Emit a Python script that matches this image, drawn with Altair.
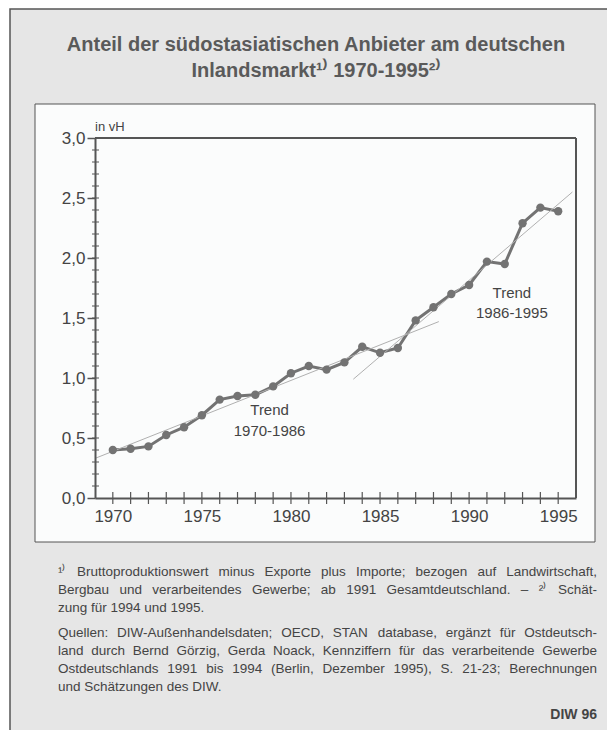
import altair as alt
import pandas as pd

years = list(range(1970, 1996))
share = [0.40, 0.41, 0.43, 0.525, 0.59, 0.69, 0.82, 0.85, 0.86, 0.93,
         1.04, 1.10, 1.07, 1.13, 1.26, 1.21, 1.25, 1.48, 1.59, 1.70,
         1.775, 1.97, 1.95, 2.29, 2.42, 2.39]

trend_group = ["1970-1986", "1970-1986", "1986-1995", "1986-1995"]
trend_year = [1969.0, 1988.3, 1983.5, 1995.8]
trend_value = [0.33, 1.47, 0.99, 2.55]

label_text = ["Trend", "1970-1986", "Trend", "1986-1995"]
label_year = [1978.8, 1978.8, 1992.4, 1992.4]
label_value = [0.73, 0.555, 1.71, 1.54]

x_labels = [1970, 1975, 1980, 1985, 1990, 1995]
y_labels = [0.0, 0.5, 1.0, 1.5, 2.0, 2.5, 3.0]
y_minor = [0.1, 0.2, 0.3, 0.4, 0.5, 0.6, 0.7, 0.8, 0.9, 1.0,
           1.1, 1.2, 1.3, 1.4, 1.5, 1.6, 1.7, 1.8, 1.9, 2.0,
           2.1, 2.2, 2.3, 2.4, 2.5, 2.6, 2.7, 2.8, 2.9]

title_text = "Anteil der südostasiatischen Anbieter am deutschen\nInlandsmarkt¹⁾ 1970-1995²⁾"
note_lines = [
    "¹⁾ Bruttoproduktionswert minus Exporte plus Importe; bezogen auf Landwirtschaft,",
    "Bergbau und verarbeitendes Gewerbe; ab 1991 Gesamtdeutschland. – ²⁾ Schät-",
    "zung für 1994 und 1995.",
    "Quellen: DIW-Außenhandelsdaten; OECD, STAN database, ergänzt für Ostdeutsch-",
    "land durch Bernd Görzig, Gerda Noack, Kennziffern für das verarbeitende Gewerbe",
    "Ostdeutschlands 1991 bis 1994 (Berlin, Dezember 1995), S. 21-23; Berechnungen",
    "und Schätzungen des DIW.",
]
note_justified = [True, True, False, True, True, True, False]
badge = "DIW 96"

W, H = 481, 360
FONT = "Liberation Sans"
DARK = "#555555"

# --- text layout for justified footnotes (Arial/Liberation Sans advance widths) ---
ARIAL = {" ": 278, "!": 278, "(": 333, ")": 333, ",": 278, "-": 333, ".": 278,
         ":": 278, ";": 278, "¹": 333, "²": 333, "⁾": 333, "–": 556, "ß": 611,
         "A": 667, "B": 667, "C": 722, "D": 722, "E": 667, "F": 611, "G": 778,
         "H": 722, "I": 278, "J": 500, "K": 667, "L": 556, "M": 833, "N": 722,
         "O": 778, "P": 667, "Q": 778, "R": 722, "S": 667, "T": 611, "U": 722,
         "V": 667, "W": 944, "X": 667, "Y": 667, "Z": 611,
         "c": 500, "f": 278, "i": 222, "j": 222, "k": 500, "l": 222, "m": 833,
         "r": 333, "s": 500, "t": 278, "v": 500, "w": 722, "x": 500, "y": 500,
         "z": 500}
FOOT_SIZE = 13.5
FOOT_LEFT, FOOT_RIGHT = -37, 502
FOOT_Y = [434, 452, 470, 495, 513, 531, 549]


def text_width(s):
    return sum(ARIAL.get(ch, 556) for ch in s) * FOOT_SIZE / 1000.0


words = []
for line, just, py in zip(note_lines, note_justified, FOOT_Y):
    parts = line.split(" ")
    widths = [text_width(p) for p in parts]
    if just and len(parts) > 1:
        gap = (FOOT_RIGHT - FOOT_LEFT - sum(widths)) / (len(parts) - 1)
    else:
        gap = text_width(" ")
    x = FOOT_LEFT
    for p, w in zip(parts, widths):
        words.append({"w": p, "px": x, "py": py})
        x += w + gap
words_df = pd.DataFrame(words)

series = pd.DataFrame({"year": years, "value": share})
trend = pd.DataFrame({"group": trend_group, "year": trend_year, "value": trend_value})
labels = pd.DataFrame({"text": label_text, "year": label_year, "value": label_value})
minor = pd.DataFrame({"value": y_minor})
yticks = pd.DataFrame({"year": years})
one = alt.Data(values=[{"k": 0}])

xs = alt.Scale(domain=[1969, 1996], nice=False, zero=False)
ys = alt.Scale(domain=[0, 3], nice=False)

x_axis = alt.Axis(values=x_labels, format="d", title=None, ticks=False,
                  labelPadding=10, labelFontSize=17, labelColor="#444",
                  domainColor=DARK, domainWidth=2, grid=False, zindex=1,
                  labelFont=FONT)
y_axis = alt.Axis(values=y_labels, title=None, tickSize=8, tickColor=DARK,
                  tickWidth=1.5, labelPadding=2, labelFontSize=17,
                  labelColor="#444", domainColor=DARK, domainWidth=2,
                  grid=False, zindex=1, labelFont=FONT,
                  labelExpr="replace(format(datum.value, '.1f'), '.', ',')")

X = alt.X("year:Q", scale=xs, axis=x_axis)
Y = alt.Y("value:Q", scale=ys, axis=y_axis)

outer = alt.Chart(one).mark_rect(fill="#e6e6e6", stroke=DARK, strokeWidth=1.5).encode(
    x=alt.value(-85), x2=alt.value(540), y=alt.value(-129), y2=alt.value(640))
panel = alt.Chart(one).mark_rect(fill="#fbfcfc", stroke=DARK, strokeWidth=1).encode(
    x=alt.value(-60), x2=alt.value(500), y=alt.value(-34), y2=alt.value(404))

line = alt.Chart(series).mark_line(color="#737373", strokeWidth=3).encode(x=X, y=Y)
trend_lines = alt.Chart(trend).mark_line(color="#b0b0b0", strokeWidth=1).encode(
    x=X, y=Y, detail="group:N")
points = alt.Chart(series).mark_circle(color="#737373", size=70, opacity=1).encode(
    x=X, y=Y)

minor_ticks = alt.Chart(minor).mark_rule(color=DARK, strokeWidth=1).encode(
    x=alt.value(-3), x2=alt.value(4), y=Y)
year_ticks = alt.Chart(yticks).mark_rule(color=DARK, strokeWidth=1.2).encode(
    x=X, y=alt.value(H - 6), y2=alt.value(H + 6))

frame_top = alt.Chart(one).mark_rule(color=DARK, strokeWidth=2).encode(
    x=alt.value(0), x2=alt.value(W), y=alt.value(0))
frame_right = alt.Chart(one).mark_rule(color=DARK, strokeWidth=2).encode(
    x=alt.value(W), y=alt.value(0), y2=alt.value(H))

trend_text = alt.Chart(labels).mark_text(fontSize=15, color="#444", font=FONT).encode(
    x=X, y=Y, text="text:N")

unit = alt.Chart(one).mark_text(text="in vH", fontSize=13, color="#444", font=FONT,
                                align="left", baseline="alphabetic").encode(
    x=alt.value(0), y=alt.value(-7))

title = alt.Chart(one).mark_text(text=title_text, fontSize=20, fontWeight="bold",
                                 color="#5a5a5a", font=FONT, align="center",
                                 baseline="middle", lineBreak="\n", lineHeight=26).encode(
    x=alt.value(221), y=alt.value(-93))

foot = alt.Chart(words_df).mark_text(fontSize=FOOT_SIZE, color="#444", font=FONT,
                                     align="left", baseline="middle").encode(
    x=alt.X("px:Q", scale=None), y=alt.Y("py:Q", scale=None), text="w:N")
foot_badge = alt.Chart(one).mark_text(text=badge, fontSize=14, fontWeight="bold",
                                      color="#444", font=FONT, align="right",
                                      baseline="middle").encode(
    x=alt.value(502), y=alt.value(577))

chart = alt.layer(
    outer, panel, line, trend_lines, points, minor_ticks, year_ticks,
    frame_top, frame_right, trend_text, unit, title, foot, foot_badge
).properties(
    width=W, height=H,
    padding={"left": 87, "top": 130, "right": 31, "bottom": 240},
    autosize=alt.AutoSizeParams(type="none"),
    background="white"
).configure_view(stroke=None, fill=None).configure(font=FONT)

chart.save("out.html", embed_options={"renderer": "svg", "actions": False})
